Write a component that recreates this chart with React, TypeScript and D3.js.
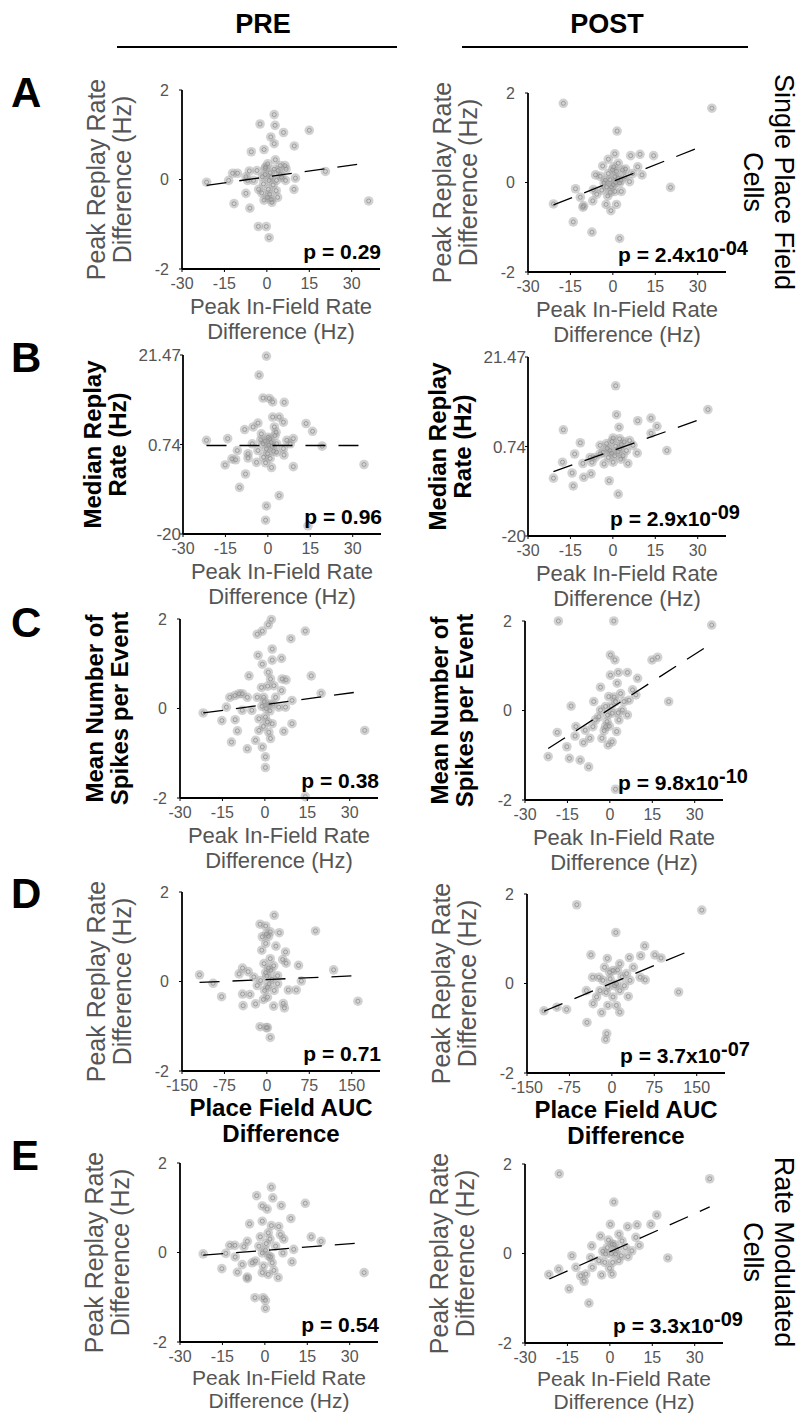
import React from 'react';
import * as d3 from 'd3';

type Pt = [number, number];

// ---------- tick definitions ----------
const rateTicks = [-30, -15, 0, 15, 30];
const aucTicks = [-150, -75, 0, 75, 150];
const diffTicks = [-2, 0, 2];
const medianTicks = [-20, 0.74, 21.47];
const medianTickLabels = ['-20', '0.74', '21.47'];

const rowLetters = ['A', 'B', 'C', 'D', 'E'];
const columnTitles = ['PRE', 'POST'];

const preP = ['0.29', '0.96', '0.38', '0.71', '0.54'];
const postPMantissa = ['2.4', '2.9', '9.8', '3.7', '3.3'];
const postPExponent = ['-04', '-09', '-10', '-07', '-09'];

// ---------- data ----------
const aPre: Pt[] = [[-21.3,-0.06],[-13.5,-0.02],[-12.1,0.14],[-10.4,0.14],[-7.4,0.06],[-6.2,0.19],[-6.8,-0.02],[-7.4,-0.31],[-11.6,-0.54],[-6.0,-0.64],[-5.5,0.62],[-2.4,1.24],[-1.0,0.67],[2.6,1.45],[2.9,1.21],[5.9,1.05],[1.4,0.95],[2.6,0.80],[9.7,0.75],[15.0,1.10],[-0.6,0.25],[3.0,0.44],[4.8,0.31],[6.4,0.31],[6.8,0.23],[10.1,0.03],[6.6,-0.02],[3.4,-0.02],[0.8,-0.02],[-1.6,0.06],[-2.9,-0.22],[0.5,-0.22],[3.3,-0.25],[9.6,-0.22],[-1.0,-0.46],[1.8,-0.51],[1.0,-0.33],[-3.0,-1.05],[-0.2,-1.05],[0.8,-1.30],[20.7,0.18],[36.0,-0.48],[4.8,0.11],[-4.7,-0.02],[-0.6,0.11],[2.6,0.23],[-0.4,0.28],[0.2,-0.4],[1.5,-0.45],[-1.2,-0.1],[1.5,0.05],[2.2,-0.12],[4.0,0.2],[5.2,0.05],[-1.8,-0.3],[0.3,0.35],[3.8,-0.4],[-3.5,0.2],[1.2,0.15]];
const aPost: Pt[] = [[-17.5,1.77],[35.0,1.66],[1.5,1.15],[-21.0,-0.48],[-13.2,-0.14],[-14.0,-0.88],[-11.5,-0.33],[-10.6,-0.55],[-7.1,-0.41],[-7.4,-1.11],[2.4,-1.25],[-6.1,0.17],[-3.6,0.37],[-1.6,0.52],[0.7,0.64],[6.3,0.60],[9.6,0.63],[14.4,0.60],[1.9,0.43],[3.4,0.28],[8.8,0.35],[10.3,0.17],[5.9,0.02],[3.0,-0.20],[-0.7,-0.63],[-2.4,-0.49],[1.3,-0.49],[-3.9,-0.17],[-1.0,0.06],[0.7,0.13],[0.1,-0.05],[20.4,-0.11],[-6.9,-0.16],[-3.1,-0.01],[2.4,-0.01],[7.0,0.20],[-1.6,0.20],[-4.5,0.14],[-0.1,0.28],[-10.3,-0.52],[-5.7,-0.26],[-2.2,-0.10],[4.2,0.13],[0.7,-0.20],[1.0,0.0],[-0.5,-0.1],[1.8,0.1],[-1.8,-0.3],[2.8,0.05],[0.3,0.35],[-2.6,0.05],[4.5,0.3],[-0.9,-0.22],[1.2,0.25]];
const bPre: Pt[] = [[-0.5,21.2],[-3.1,16.8],[-1.7,11.5],[0.5,11.4],[1.7,10.6],[5.8,10.5],[1.7,7.1],[4.0,7.1],[5.5,5.9],[13.5,5.6],[15.8,3.8],[-21.7,1.7],[-14.2,2.1],[-8.2,4.2],[-5.2,4.8],[-3.5,5.7],[2.9,3.6],[6.7,1.7],[9.0,2.1],[19.2,0.35],[34.0,-3.9],[-10.8,-0.66],[-12.7,-2.6],[-11.4,-2.8],[-15.1,-4.0],[-7.0,-1.4],[-7.0,-2.4],[-7.9,-6.1],[-10.0,-9.2],[-4.0,-3.4],[-0.1,-1.4],[1.3,-4.6],[5.7,-1.7],[9.0,-4.4],[4.0,-11.1],[-0.5,-13.5],[-0.8,-16.8],[14.2,-18.1],[-1.7,0.9],[0.7,2.1],[3.1,0.9],[-0.5,-0.3],[-3.5,-0.66],[2.3,4.8],[0.1,2.4],[3.1,-1.05],[5.5,-0.2],[7.9,0.9],[-5.5,0.9],[-2.3,3.2],[0.8,-2.5],[-1.0,1.5],[1.5,0.3],[-1.5,-2.2],[2.0,-0.8],[0.3,0.6],[-2.5,1.8],[1.2,1.2],[-0.8,-3.5],[2.5,2.8]];
const bPost: Pt[] = [[1.0,14.8],[33.6,9.3],[1.3,8.1],[8.8,6.7],[13.5,7.3],[15.6,5.4],[13.5,3.8],[2.2,5.2],[-17.5,4.6],[-11.5,1.6],[19.1,-0.2],[-13.5,-1.0],[-17.8,-2.9],[-21.0,-6.6],[-14.4,-5.4],[-14.0,-8.4],[-10.3,-6.4],[-7.7,-5.6],[-1.3,-7.2],[1.9,-10.3],[-10.6,-3.2],[-8.0,-1.8],[-4.5,-1.0],[-3.1,-3.3],[0.1,-2.9],[5.3,-3.2],[8.6,-0.8],[5.9,2.1],[2.4,2.5],[0.1,2.7],[-2.2,1.4],[-4.5,1.0],[-1.0,-0.2],[2.4,0.2],[7.1,1.0],[-6.3,-1.8],[0.7,-1.4],[3.6,-1.4],[-3.4,-0.6],[4.8,-0.2],[-1.6,-1.8],[-7.4,-2.9],[1.0,0.8],[-0.5,-0.8],[3.0,1.2],[-2.0,0.3],[1.8,-0.5],[4.0,1.8],[-0.3,1.9],[2.8,-2.2]];
const cPre: Pt[] = [[-21.8,-0.10],[-15.2,-0.27],[-13.6,0.03],[-10.5,-0.25],[-9.7,-0.50],[-11.8,-0.75],[-12.4,0.25],[-10.6,0.29],[-8.0,0.33],[-6.2,0.25],[-5.6,0.73],[-2.7,1.66],[-0.9,1.73],[1.2,1.87],[2.3,1.99],[14.3,1.73],[9.2,1.56],[2.6,1.33],[5.9,1.12],[2.6,1.08],[-2.4,1.19],[-0.9,0.99],[1.2,0.81],[2.0,0.66],[6.1,0.66],[7.5,0.64],[16.4,0.73],[3.2,0.51],[5.9,0.40],[-1.2,0.47],[-0.4,0.25],[19.9,0.34],[35.3,-0.49],[9.6,0.18],[7.3,0.03],[4.9,0.03],[9.6,-0.34],[6.7,-0.51],[0.2,-0.19],[2.6,-0.34],[-2.1,-0.23],[-4.6,-0.04],[-8.0,-0.04],[-6.2,-0.90],[-3.3,-0.71],[-0.9,-0.86],[0.2,-1.08],[0.2,-1.32],[2.0,-0.67],[1.4,-0.53],[-2.1,-0.49],[14.3,-1.97],[-2.7,0.25],[1.4,0.10],[3.8,0.25],[-9.1,0.33],[0.5,0.0],[-0.5,-0.4],[1.0,0.5],[-0.2,0.15],[1.8,-0.05],[0.9,-0.3],[-1.0,0.05],[2.8,0.1]];
const cPost: Pt[] = [[-18.2,2.0],[1.4,2.0],[36.0,1.91],[0.2,1.24],[1.8,1.13],[14.9,1.13],[16.9,1.19],[0.2,0.79],[3.0,0.85],[6.2,0.85],[9.8,0.72],[2.6,0.61],[-3.3,0.52],[-5.7,0.20],[-13.7,0.10],[20.8,0.20],[-18.6,-0.49],[-21.8,-1.03],[-14.3,-1.07],[-15.2,-0.81],[-12.0,-0.36],[-12.3,-0.57],[-10.5,-1.11],[-7.5,-1.26],[-9.3,-0.72],[-7.1,-0.62],[-6.0,-0.36],[-2.8,-0.62],[-0.6,-0.77],[0.8,-0.70],[2.4,-0.47],[2.0,-1.76],[6.2,-0.10],[-3.9,-0.14],[-1.5,0.09],[2.0,0.20],[6.8,0.23],[8.0,0.46],[3.8,0.38],[-0.4,0.31],[-3.3,0.01],[0.8,-0.06],[4.4,0.01],[-5.1,-0.21],[-1.0,-0.25],[3.2,-0.21],[-1.5,-0.36],[9.2,0.35],[-8.7,-0.44],[0.5,0.1],[-0.8,-0.1],[1.5,0.3],[-2.0,-0.45],[3.0,-0.05],[-0.2,-0.35],[5.0,0.2]];
const dPre: Pt[] = [[-119,0.15],[-95,-0.04],[-80,-0.34],[-49,0.17],[-43,0.30],[-33,0.22],[-43,-0.28],[-30,-0.29],[-42,-0.54],[-20,-0.50],[-23,0.10],[-12,1.28],[-2,1.24],[13,1.48],[-1,1.06],[3,1.01],[-8,1.00],[6,1.11],[22,1.09],[86,1.13],[16,0.79],[-2,0.85],[-9,0.70],[33,0.66],[28,0.49],[34,0.41],[56,0.36],[118,0.26],[161,-0.44],[61,0.01],[52,-0.19],[38,-0.19],[29,-0.49],[31,-0.59],[12,-0.55],[-12,-1.01],[-1,-1.03],[6,-1.25],[1,-1.03],[13,-0.20],[1,-0.13],[-11,0.02],[7,0.25],[19,0.13],[-5,0.40],[1,-0.35],[-17,-0.09],[19,-0.05],[6,0.51],[3,0.3],[-4,-0.2],[9,0.05],[0,0.12],[-6,-0.4],[12,0.35],[4,-0.05],[-2,0.2]];
const dPost: Pt[] = [[-62,1.76],[159,1.64],[7,1.14],[58,0.84],[-37,0.64],[51,0.62],[76,0.64],[87,0.57],[31,0.58],[-8,0.56],[-120,-0.61],[-97,-0.53],[-80,-0.58],[-44,-0.87],[118,-0.19],[-9,-1.12],[-11,-1.25],[-18,-0.65],[14,-0.64],[-34,0.14],[-23,0.14],[59,0.08],[29,-0.29],[-7,-0.49],[8,-0.49],[-45,-0.16],[-27,-0.30],[-7,-0.08],[8,-0.01],[26,0.22],[38,0.36],[2,0.29],[-13,0.36],[14,0.44],[32,0.07],[-21,-0.16],[2,-0.30],[50,0.14],[-33,-0.45],[-16,0.07],[14,-0.16],[-3,0.1],[5,-0.05],[18,0.15],[-10,-0.2],[22,-0.05],[-4,0.25],[10,0.3]];
const ePre: Pt[] = [[-21.8,-0.03],[-15.2,-0.36],[-13.8,-0.02],[-12.4,0.16],[-10.6,0.16],[-10.5,-0.10],[-9.7,-0.44],[-8.0,-0.27],[-6.2,-0.58],[-6.2,-0.55],[-7.4,0.13],[-6.2,0.25],[-5.4,0.64],[-2.9,1.27],[-0.9,0.70],[2.3,1.46],[2.8,1.22],[-0.9,1.04],[0.8,0.97],[5.8,1.05],[9.2,0.76],[14.3,1.10],[2.3,0.60],[1.2,0.44],[5.5,0.40],[6.7,0.30],[16.4,0.35],[19.9,0.25],[35.1,-0.45],[10.2,0.07],[9.6,-0.21],[6.4,-0.01],[4.7,-0.56],[1.2,-0.49],[-0.9,-0.45],[-3.5,-1.01],[-0.6,-1.01],[0.2,-1.07],[0.2,-1.25],[-3.3,-0.19],[-0.9,-0.01],[1.4,-0.08],[3.8,0.14],[2.6,-0.23],[-2.1,0.14],[4.9,0.58],[-4.5,-0.23],[0.5,0.2],[-0.5,-0.3],[1.8,0.3],[0.2,0.05],[3.2,-0.4],[-1.6,0.35],[2.0,-0.1]];
const ePost: Pt[] = [[-17.9,1.78],[35.3,1.67],[1.4,1.15],[16.6,0.86],[14.5,0.65],[9.6,0.64],[6.3,0.60],[0.2,0.65],[-3.3,0.39],[-6.4,0.17],[-13.4,-0.05],[20.5,-0.10],[-21.6,-0.47],[-18.1,-0.35],[-14.4,-0.79],[-12.0,-0.31],[-10.3,-0.50],[-9.1,-0.62],[-7.4,-1.11],[-2.9,-0.48],[0.8,-0.46],[-0.1,-0.33],[6.4,-0.07],[9.2,0.36],[10.4,0.18],[3.2,0.43],[0.8,0.21],[-1.5,-0.01],[2.0,-0.01],[5.5,0.13],[-6.2,-0.31],[-3.9,-0.16],[3.2,-0.16],[7.8,0.06],[-6.8,-0.09],[-0.9,0.13],[4.3,0.28],[-8.5,-0.46],[0.5,0.0],[-1.8,-0.2],[1.5,0.2],[-0.5,0.3],[2.5,0.1],[-2.5,0.05],[1.0,-0.2],[4.0,-0.05]];

// regression lines: [start, end]
const aPreFit: Pt[] = [[-21.3, -0.13], [35.4, 0.37]];
const aPostFit: Pt[] = [[-21.0, -0.50], [31.2, 0.80]];
const bPreFit: Pt[] = [[-21.7, 0.5], [34.0, 0.5]];
const bPostFit: Pt[] = [[-21.0, -5.1], [31.7, 7.2]];
const cPreFit: Pt[] = [[-21.8, -0.10], [34.1, 0.38]];
const cPostFit: Pt[] = [[-21.8, -0.85], [36.0, 1.50]];
const dPreFit: Pt[] = [[-119, -0.02], [161, 0.13]];
const dPostFit: Pt[] = [[-120, -0.62], [145, 0.77]];
const ePreFit: Pt[] = [[-21.8, -0.06], [34.7, 0.22]];
const ePostFit: Pt[] = [[-21.4, -0.57], [35.3, 1.04]];

// ---------- layout ----------
const FONT = '"Liberation Sans", Arial, Helvetica, sans-serif';
const GRAY = '#555555';
const W = 198;
const H = 179;

type RowCfg = {
  yLabel: string[]; yBold: boolean; yOff: [number, number];
  xLabel: string[]; xBold: boolean; xOff: [number, number]; xSize: number;
  xDomain: [number, number]; xTicks: number[];
  yDomain: [number, number]; yTicks: number[]; yTickLabels: string[];
  yTickGap: number; yTickSize: number;
  pre: Pt[]; post: Pt[]; preFit: Pt[]; postFit: Pt[];
  preBox: [number, number]; postBox: [number, number];
  postPX: number; letterY: number;
};

const rateX = ['Peak In-Field Rate', 'Difference (Hz)'];
const peakY = ['Peak Replay Rate', 'Difference (Hz)'];

const rows: RowCfg[] = [
  { yLabel: peakY, yBold: false, yOff: [77, 51], xLabel: rateX, xBold: false, xOff: [45, 69.5], xSize: 22,
    xDomain: [-30, 40], xTicks: rateTicks, yDomain: [-2, 2], yTicks: diffTicks, yTickLabels: diffTicks.map(String),
    yTickGap: 13, yTickSize: 16, pre: aPre, post: aPost, preFit: aPreFit, postFit: aPostFit,
    preBox: [182, 90], postBox: [528, 93], postPX: 90, letterY: 107 },
  { yLabel: ['Median Replay', 'Rate (Hz)'], yBold: true, yOff: [82, 57], xLabel: rateX, xBold: false, xOff: [45, 69.5], xSize: 22,
    xDomain: [-30, 40], xTicks: rateTicks, yDomain: [-20, 21.47], yTicks: medianTicks, yTickLabels: medianTickLabels,
    yTickGap: 2, yTickSize: 17, pre: bPre, post: bPost, preFit: bPreFit, postFit: bPostFit,
    preBox: [183, 355], postBox: [528, 357], postPX: 82, letterY: 372 },
  { yLabel: ['Mean Number of', 'Spikes per Event'], yBold: true, yOff: [77, 52], xLabel: rateX, xBold: false, xOff: [45, 69.5], xSize: 22,
    xDomain: [-30, 40], xTicks: rateTicks, yDomain: [-2, 2], yTicks: diffTicks, yTickLabels: diffTicks.map(String),
    yTickGap: 13, yTickSize: 16, pre: cPre, post: cPost, preFit: cPreFit, postFit: cPostFit,
    preBox: [180, 619], postBox: [525, 621], postPX: 93, letterY: 637 },
  { yLabel: peakY, yBold: false, yOff: [77, 51], xLabel: ['Place Field AUC', 'Difference'], xBold: true, xOff: [45, 71], xSize: 24,
    xDomain: [-150, 200], xTicks: aucTicks, yDomain: [-2, 2], yTicks: diffTicks, yTickLabels: diffTicks.map(String),
    yTickGap: 13, yTickSize: 16, pre: dPre, post: dPost, preFit: dPreFit, postFit: dPostFit,
    preBox: [182, 892], postBox: [527, 894], postPX: 93, letterY: 908 },
  { yLabel: peakY, yBold: false, yOff: [77, 51], xLabel: rateX, xBold: false, xOff: [42.5, 66], xSize: 21,
    xDomain: [-30, 40], xTicks: rateTicks, yDomain: [-2, 2], yTicks: diffTicks, yTickLabels: diffTicks.map(String),
    yTickGap: 13, yTickSize: 16, pre: ePre, post: ePost, preFit: ePreFit, postFit: ePostFit,
    preBox: [180, 1163], postBox: [525, 1164], postPX: 88, letterY: 1170 },
];

function Panel({ cfg, box, pts, fit, isPost, idx }: { cfg: RowCfg; box: [number, number]; pts: Pt[]; fit: Pt[]; isPost: boolean; idx: number }) {
  const [left, top] = box;
  const x = d3.scaleLinear().domain(cfg.xDomain).range([left, left + W]);
  const y = d3.scaleLinear().domain(cfg.yDomain).range([top + H, top]);
  const bottom = top + H;
  const line = d3.line<Pt>().x((d) => x(d[0])).y((d) => y(d[1]));
  const cx = left + W / 2;
  const cy = top + H / 2;
  const labelWeight = cfg.yBold ? 'bold' : 'normal';
  const labelColor = cfg.yBold ? '#000' : GRAY;
  const labelSize = cfg.yBold ? 24 : 25;
  const xWeight = cfg.xBold ? 'bold' : 'normal';
  const xColor = cfg.xBold ? '#000' : GRAY;
  return (
    <g>
      {/* points */}
      <g>
        {pts.map((d, i) => (
          <circle key={'o' + i} cx={x(d[0])} cy={y(d[1])} r={4.8} fill="#a6a6a6" fillOpacity={0.5} />
        ))}
        {pts.map((d, i) => (
          <circle key={'i' + i} cx={x(d[0])} cy={y(d[1])} r={2} fill="none" stroke="#8c8c8c" strokeWidth={0.9} strokeOpacity={0.8} />
        ))}
      </g>
      {/* regression */}
      <path d={line(fit) || ''} fill="none" stroke="#000" strokeWidth={1.3} strokeDasharray="20 13" />
      {/* axes */}
      <line x1={left} x2={left} y1={top} y2={bottom} stroke="#000" strokeWidth={1.8} />
      <line x1={left} x2={left + W} y1={bottom} y2={bottom} stroke="#000" strokeWidth={1.8} />
      {cfg.xTicks.map((t) => (
        <g key={'xt' + t}>
          <line x1={x(t)} x2={x(t)} y1={bottom} y2={bottom + 3} stroke="#000" strokeWidth={1} />
          <text x={x(t)} y={bottom + 20} textAnchor="middle" fontSize={16} fill={GRAY} fontFamily={FONT}>{t}</text>
        </g>
      ))}
      {cfg.yTicks.map((t, i) => (
        <g key={'yt' + t}>
          <line x1={left - 3} x2={left} y1={y(t)} y2={y(t)} stroke="#000" strokeWidth={1} />
          <text x={left - cfg.yTickGap} y={y(t)} dy="0.36em" textAnchor="end" fontSize={cfg.yTickSize} fill={GRAY} fontFamily={FONT}>{cfg.yTickLabels[i]}</text>
        </g>
      ))}
      {/* y label */}
      {cfg.yLabel.map((s, i) => (
        <text key={'yl' + i} transform={`translate(${left - cfg.yOff[i]},${cy}) rotate(-90)`} textAnchor="middle"
          fontSize={labelSize} fontWeight={labelWeight} fill={labelColor} fontFamily={FONT}>{s}</text>
      ))}
      {/* x label */}
      {cfg.xLabel.map((s, i) => (
        <text key={'xl' + i} x={cx} y={bottom + cfg.xOff[i]} textAnchor="middle"
          fontSize={cfg.xSize} fontWeight={xWeight} fill={xColor} fontFamily={FONT}>{s}</text>
      ))}
      {/* p value */}
      {isPost ? (
        <text x={left + cfg.postPX} y={bottom - 10} fontSize={21} fontWeight="bold" fill="#000" fontFamily={FONT}>
          {`p = ${postPMantissa[idx]}x10`}
          <tspan dy={-7} fontSize={20}>{postPExponent[idx]}</tspan>
        </text>
      ) : (
        <text x={left + W + 1} y={bottom - 10} textAnchor="end" fontSize={21} fontWeight="bold" fill="#000" fontFamily={FONT}>
          {`p = ${preP[idx]}`}
        </text>
      )}
    </g>
  );
}

export default function App() {
  return (
    <div style={{ position: 'absolute', left: 0, top: 0 }}>
      <svg width={798} height={1414} viewBox="0 0 798 1414" style={{ display: 'block', background: '#fff' }}>
        <rect x={0} y={0} width={798} height={1414} fill="#fff" />
        {/* column headers */}
        <text x={263} y={33} textAnchor="middle" fontSize={27} fontWeight="bold" fontFamily={FONT}>{columnTitles[0]}</text>
        <line x1={117} x2={397} y1={47} y2={47} stroke="#000" strokeWidth={2} />
        <text x={607} y={33} textAnchor="middle" fontSize={27} fontWeight="bold" fontFamily={FONT}>{columnTitles[1]}</text>
        <line x1={462} x2={748} y1={47} y2={47} stroke="#000" strokeWidth={2} />
        {/* right side labels */}
        <text transform="translate(775,182) rotate(90)" textAnchor="middle" fontSize={27} fontFamily={FONT}>Single Place Field</text>
        <text transform="translate(744,182) rotate(90)" textAnchor="middle" fontSize={27} fontFamily={FONT}>Cells</text>
        <text transform="translate(775,1252) rotate(90)" textAnchor="middle" fontSize={27} fontFamily={FONT}>Rate Modulated</text>
        <text transform="translate(744,1252) rotate(90)" textAnchor="middle" fontSize={27} fontFamily={FONT}>Cells</text>
        {rows.map((cfg, i) => (
          <g key={'row' + i}>
            <text x={11} y={cfg.letterY} fontSize={42} fontWeight="bold" fontFamily={FONT}>{rowLetters[i]}</text>
            <Panel cfg={cfg} box={cfg.preBox} pts={cfg.pre} fit={cfg.preFit} isPost={false} idx={i} />
            <Panel cfg={cfg} box={cfg.postBox} pts={cfg.post} fit={cfg.postFit} isPost={true} idx={i} />
          </g>
        ))}
      </svg>
    </div>
  );
}
